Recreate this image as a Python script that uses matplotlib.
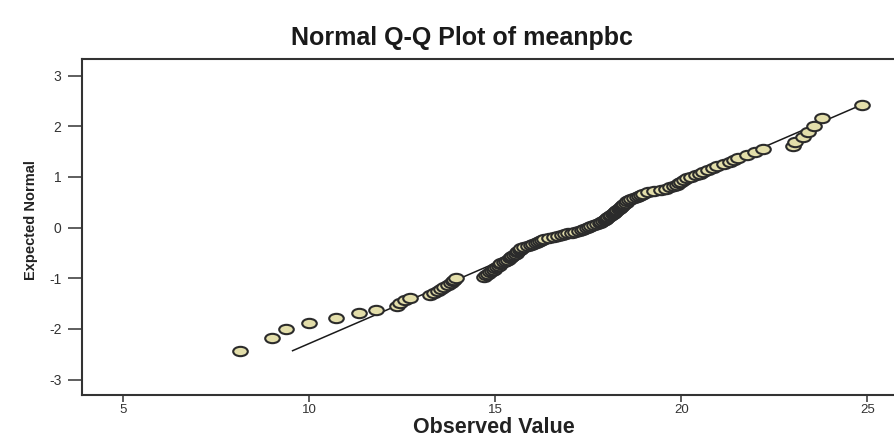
import numpy as np
import matplotlib
matplotlib.use('Agg')
import matplotlib.pyplot as plt
from matplotlib.path import Path

observado = [8.14, 8.99, 9.37, 10.00, 10.72, 11.34, 11.79, 12.35, 12.44, 12.57,
             12.71, 13.25, 13.35, 13.45, 13.55, 13.62, 13.72, 13.80, 13.85, 13.90,
             13.95, 14.70, 14.75, 14.80, 14.85, 14.90, 14.95, 15.00, 15.05, 15.10,
             15.12, 15.15, 15.22, 15.28, 15.33, 15.38, 15.42, 15.46, 15.50, 15.55,
             15.58, 15.62, 15.65, 15.68, 15.70, 15.78, 15.88, 15.95, 16.02, 16.08,
             16.14, 16.20, 16.25, 16.30, 16.45, 16.58, 16.68, 16.78, 16.88, 16.96,
             17.05, 17.15, 17.25, 17.32, 17.38, 17.45, 17.52, 17.58, 17.65, 17.72,
             17.80, 17.85, 17.90, 17.94, 17.97, 18.00, 18.04, 18.08, 18.10, 18.15,
             18.18, 18.22, 18.25, 18.28, 18.31, 18.34, 18.37, 18.40, 18.43, 18.46,
             18.50, 18.55, 18.60, 18.65, 18.72, 18.80, 18.86, 18.92, 18.98, 19.10,
             19.25, 19.45, 19.58, 19.70, 19.80, 19.88, 19.93, 19.98, 20.08, 20.15,
             20.25, 20.40, 20.50, 20.59, 20.72, 20.85, 20.95, 21.15, 21.31, 21.40,
             21.53, 21.76, 21.98, 22.20, 23.01, 23.06, 23.28, 23.40, 23.55, 23.77,
             24.85]

# normal esperada (eje y)
esperado = [-2.43, -2.17, -2.00, -1.88, -1.78, -1.69, -1.62, -1.55, -1.49, -1.43,
            -1.38, -1.34, -1.29, -1.25, -1.21, -1.17, -1.13, -1.10, -1.06, -1.03,
            -1.00, -0.97, -0.94, -0.91, -0.88, -0.85, -0.83, -0.80, -0.77, -0.75,
            -0.72, -0.70, -0.67, -0.65, -0.63, -0.60, -0.58, -0.56, -0.54, -0.52,
            -0.49, -0.47, -0.45, -0.43, -0.41, -0.39, -0.37, -0.35, -0.33, -0.31,
            -0.29, -0.27, -0.25, -0.23, -0.21, -0.19, -0.17, -0.15, -0.13, -0.11,
            -0.10, -0.08, -0.06, -0.04, -0.02, 0.00, 0.02, 0.04, 0.06, 0.08,
            0.10, 0.11, 0.13, 0.15, 0.17, 0.19, 0.21, 0.23, 0.25, 0.27,
            0.29, 0.31, 0.33, 0.35, 0.37, 0.39, 0.41, 0.43, 0.45, 0.47,
            0.49, 0.52, 0.54, 0.56, 0.58, 0.60, 0.63, 0.65, 0.67, 0.70,
            0.72, 0.75, 0.77, 0.80, 0.83, 0.85, 0.88, 0.91, 0.94, 0.97,
            1.00, 1.03, 1.06, 1.10, 1.13, 1.17, 1.21, 1.25, 1.29, 1.34,
            1.38, 1.43, 1.49, 1.55, 1.62, 1.69, 1.78, 1.88, 2.00, 2.17,
            2.43]

# recta de referencia
recta_x = [9.55, 24.86]
recta_y = [-2.43, 2.43]

xticks = [5, 10, 15, 20, 25]
yticks = [-3, -2, -1, 0, 1, 2, 3]

plt.rcParams['font.family'] = ['Liberation Sans', 'DejaVu Sans']
plt.rcParams['axes.unicode_minus'] = False

fig = plt.figure(figsize=(8.95, 4.38), dpi=100)
ax = fig.add_axes([0.092, 0.0975, 0.908, 0.768])

# marcador eliptico (los puntos del original estan estirados)
circ = Path.unit_circle()
elipse = Path(circ.vertices * np.array([1.0, 0.64]), circ.codes)

ax.plot(recta_x, recta_y, color='#1a1a1a', lw=1.1, zorder=2)
ax.plot(observado, esperado, linestyle='none', marker=elipse, markersize=10.5,
        markerfacecolor='#e3deaa', markeredgecolor='#2b2b2b',
        markeredgewidth=1.5, zorder=3)

ax.set_xlim(3.9, 25.74)
ax.set_ylim(-3.31, 3.33)
ax.set_xticks(xticks)
ax.set_yticks(yticks)

for s in ['left', 'bottom', 'top']:
    ax.spines[s].set_color('#333333')
    ax.spines[s].set_linewidth(1.5)
ax.spines['right'].set_visible(False)

ax.tick_params(axis='y', length=10, width=1.1, color='#333333',
               labelsize=10, labelcolor='#333333', pad=5)
ax.tick_params(axis='x', length=5, width=1.1, color='#333333',
               labelsize=9.5, labelcolor='#333333', pad=1.5)

ax.set_xlabel('Observed Value', fontsize=15.5, fontweight='bold',
              color='#222222')
ax.xaxis.set_label_coords(0.506, -0.064)

fig.text(31/895, 1 - 220/438, 'Expected Normal', rotation=90,
         fontsize=10.5, fontweight='bold', color='#222222',
         ha='center', va='center')

fig.text(462/895, 1 - 38/438, 'Normal Q-Q Plot of meanpbc', fontsize=18,
         fontweight='bold', color='#1a1a1a', ha='center', va='center')

plt.savefig('out.png', dpi=100)
